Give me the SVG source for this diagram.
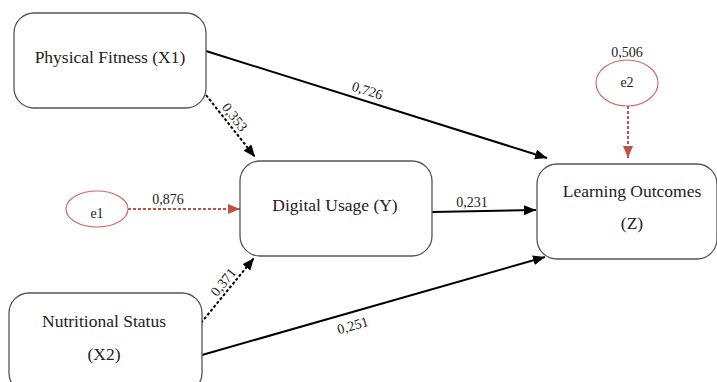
<svg xmlns="http://www.w3.org/2000/svg" width="717" height="382" viewBox="0 0 717 382" font-family="Liberation Serif, Times New Roman, serif">
<defs>
<marker id="ab" markerUnits="userSpaceOnUse" markerWidth="13" markerHeight="11" refX="12" refY="5" orient="auto"><path d="M0,0 L12,5 L0,10 z" fill="#000"/></marker>
<marker id="ar" markerUnits="userSpaceOnUse" markerWidth="13" markerHeight="11" refX="12" refY="5" orient="auto"><path d="M0,0 L12,5 L0,10 z" fill="#c0504d"/></marker>
<style>
.box{fill:#fff;stroke:#555;stroke-width:1.3}
.ell{fill:#fff;stroke:#d06a66;stroke-width:1.2}
.t{font-size:17.5px;fill:#222;text-anchor:middle}
.l{font-size:14px;fill:#222;text-anchor:middle}
.s{fill:none;stroke:#000;stroke-width:2;marker-end:url(#ab)}
.d{fill:none;stroke:#000;stroke-width:2;stroke-dasharray:3,2;marker-end:url(#ab)}
.r{fill:none;stroke:#c0504d;stroke-width:2;stroke-dasharray:3,2;marker-end:url(#ar)}
</style>
</defs>
<rect width="717" height="382" fill="#fff"/>
<g id="connectors">
<path class="s" d="M206,51 L547,158"/>
<path class="s" d="M432,212 L536,210"/>
<path class="s" d="M202,355 L545,257"/>
<path class="d" d="M206,95 L255,157"/>
<path class="d" d="M201,323 L254,258"/>
<path class="r" d="M128,209 L240,209"/>
<path class="r" d="M628,106 L628,158"/>
<text class="l" x="366" y="95" transform="rotate(17.5 366 95)">0,726</text>
<text class="l" x="231" y="120" transform="rotate(52 231 120)">0,353</text>
<text class="l" x="227" y="285" transform="rotate(-51 227 285)">0,371</text>
<text class="l" x="354" y="330" transform="rotate(-16 354 330)">0,251</text>
<text class="l" x="472" y="207">0,231</text>
<text class="l" x="168" y="204">0,876</text>
<text class="l" x="627" y="57">0,506</text>
</g>
<g id="physical-fitness">
<rect class="box" x="14" y="13" width="192" height="95" rx="20"/>
<text class="t" x="110" y="63">Physical Fitness (X1)</text>
</g>
<g id="digital-usage">
<rect class="box" x="240" y="161" width="192" height="95" rx="20"/>
<text class="t" x="335" y="211">Digital Usage (Y)</text>
</g>
<g id="learning-outcomes">
<rect class="box" x="537" y="164" width="180" height="95" rx="20"/>
<text class="t" x="632" y="197">Learning Outcomes</text>
<text class="t" x="632" y="229">(Z)</text>
</g>
<g id="nutritional-status">
<rect class="box" x="9" y="293" width="193" height="100" rx="20"/>
<text class="t" x="104" y="327">Nutritional Status</text>
<text class="t" x="104" y="360">(X2)</text>
</g>
<g id="e1">
<ellipse class="ell" cx="97" cy="209" rx="31" ry="18"/>
<text class="l" x="97" y="218">e1</text>
</g>
<g id="e2">
<ellipse class="ell" cx="627" cy="83" rx="31" ry="23"/>
<text class="l" x="627" y="87">e2</text>
</g>
</svg>
